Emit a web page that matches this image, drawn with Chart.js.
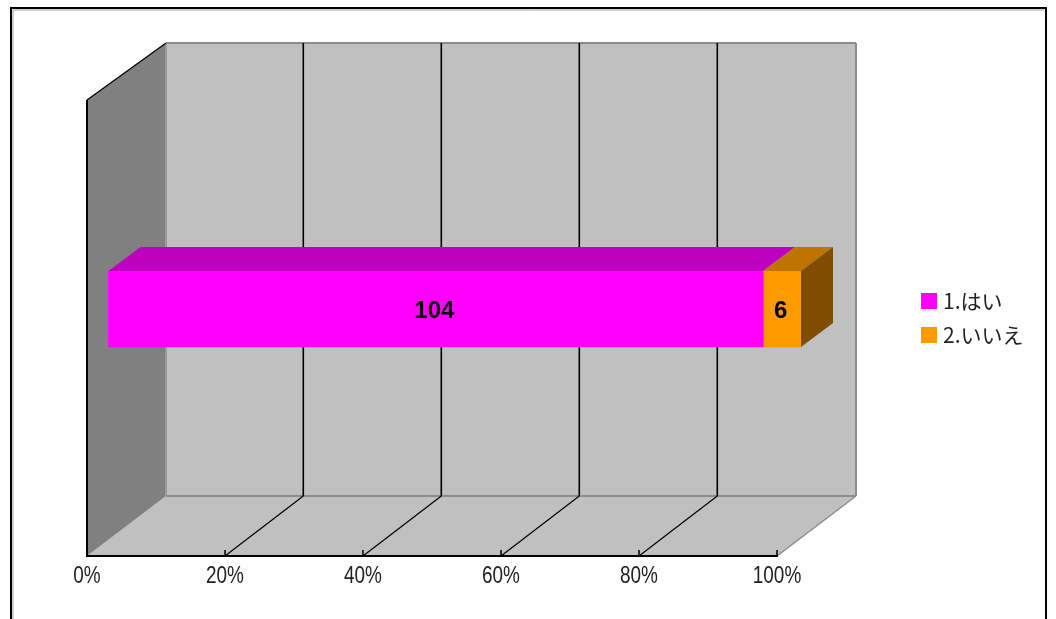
<!DOCTYPE html>
<html>
<head>
<meta charset="utf-8">
<style>
  html, body { margin: 0; padding: 0; background: #fff; overflow: hidden; }
  canvas { display: block; }
</style>
<script src="https://cdn.jsdelivr.net/npm/chart.js@4/dist/chart.umd.min.js"></script>
</head>
<body>
<canvas id="chart" width="1056" height="619"></canvas>
<script>
const categories = ["Q"];
const seriesNames = ["1.はい", "2.いいえ"];
const seriesValues = [[104], [6]];
const tickLabels = ["0%", "20%", "40%", "60%", "80%", "100%"];
const seriesColors = ["#ff00ff", "#ff9900"];
const topColors = ["#c000c0", "#bf7300"];
const sideColors = ["#800080", "#804d00"];

const TOTAL = seriesValues[0][0] + seriesValues[1][0];

// depth of the box and of the bar inside it
const DEPTH_X = 79, DEPTH_TOP = -57, DEPTH_FLOOR = -60;
const BAR_DX = 32, BAR_DY = -24;
const BAR_LEFT = 108, BAR_RIGHT = 801, BAR_SHIFT_Y = -19;

function poly(ctx, pts, fill) {
    ctx.beginPath();
    pts.forEach((p, i) => i ? ctx.lineTo(p[0], p[1]) : ctx.moveTo(p[0], p[1]));
    ctx.closePath();
    ctx.fillStyle = fill;
    ctx.fill();
}

function line(ctx, x1, y1, x2, y2, color, width) {
    ctx.beginPath();
    ctx.moveTo(x1, y1);
    ctx.lineTo(x2, y2);
    ctx.strokeStyle = color;
    ctx.lineWidth = width;
    ctx.stroke();
}

const box3d = {
    id: "box3d",
    beforeDraw(chart) {
        const ctx = chart.ctx;
        const { left, right, top, bottom } = chart.chartArea;
        const x = chart.scales.x;
        const backTop = top + DEPTH_TOP, backBottom = bottom + DEPTH_FLOOR;

        ctx.save();
        ctx.fillStyle = "#fff";
        ctx.fillRect(0, 0, chart.width, chart.height);

        // frame, runs off the bottom of the picture
        ctx.strokeStyle = "#000";
        ctx.lineWidth = 2;
        ctx.strokeRect(11, 8, 1035, 700);
        line(ctx, 13, 10, 1044, 10, "#a0a0a0", 1);
        line(ctx, 13, 10, 13, 619, "#a0a0a0", 1);

        // walls
        poly(ctx, [[left + DEPTH_X, backTop], [right + DEPTH_X, backTop], [right + DEPTH_X, backBottom], [left + DEPTH_X, backBottom]], "#c0c0c0");
        poly(ctx, [[left, bottom], [right, bottom], [right + DEPTH_X, backBottom], [left + DEPTH_X, backBottom]], "#c0c0c0");
        poly(ctx, [[left, top], [left + DEPTH_X, backTop], [left + DEPTH_X, backBottom], [left, bottom]], "#808080");

        // grey edges
        line(ctx, left + DEPTH_X, backTop, right + DEPTH_X, backTop, "#8c8c8c", 2);
        line(ctx, right + DEPTH_X, backTop, right + DEPTH_X, backBottom, "#8c8c8c", 2);
        line(ctx, left + DEPTH_X, backTop, left + DEPTH_X, backBottom, "#9a9a9a", 2);
        line(ctx, left + DEPTH_X, backBottom, right + DEPTH_X, backBottom, "#8c8c8c", 2);
        line(ctx, right + DEPTH_X, backBottom, right, bottom, "#8c8c8c", 1.5);

        // grid lines on back wall and floor
        x.ticks.forEach((t, i) => {
            const px = x.getPixelForValue(t.value);
            if (i > 0 && i < x.ticks.length - 1) {
                line(ctx, px + DEPTH_X - 0.7, backTop, px + DEPTH_X - 0.7, backBottom, "#000", 1.6);
                line(ctx, px + DEPTH_X - 0.7, backBottom, px, bottom, "#000", 1.2);
            }
            if (i > 0) line(ctx, px, bottom, px, bottom - 6, "#000", 1.5);
        });

        // front-left edge and its top diagonal
        line(ctx, left, top, left, bottom, "#000", 2);
        line(ctx, left, top, left + DEPTH_X, backTop, "#000", 1.3);
        ctx.restore();
    },
    beforeDatasetsDraw(chart) {
        const ctx = chart.ctx;
        const { left, right } = chart.chartArea;
        // bar sits part way into the box, slightly wider than the axis
        ctx.save();
        ctx.translate(BAR_LEFT, BAR_SHIFT_Y);
        ctx.scale((BAR_RIGHT - BAR_LEFT) / (right - left), 1);
        ctx.translate(-left, 0);
    },
    afterDatasetsDraw(chart) {
        const ctx = chart.ctx;
        const { left, right } = chart.chartArea;
        const sx = (BAR_RIGHT - BAR_LEFT) / (right - left);
        const dx = BAR_DX / sx;

        chart.data.datasets.forEach((ds, i) => {
            const el = chart.getDatasetMeta(i).data[0];
            const y0 = el.y - el.height / 2, y1 = el.y + el.height / 2;
            poly(ctx, [[el.base, y0], [el.x, y0], [el.x + dx, y0 + BAR_DY], [el.base + dx, y0 + BAR_DY]], topColors[i]);
            if (i === chart.data.datasets.length - 1) {
                poly(ctx, [[el.x, y0], [el.x + dx, y0 + BAR_DY], [el.x + dx, y1 + BAR_DY], [el.x, y1]], sideColors[i]);
            }
        });
        ctx.restore();

        // value labels
        ctx.save();
        ctx.font = "bold 24px 'Liberation Sans', sans-serif";
        ctx.fillStyle = "#000";
        ctx.textAlign = "center";
        ctx.textBaseline = "middle";
        chart.data.datasets.forEach((ds, i) => {
            const el = chart.getDatasetMeta(i).data[0];
            const cx = BAR_LEFT + ((el.base + el.x) / 2 - left) * sx;
            ctx.fillText(String(ds.data[0]), cx - 1.5, el.y + BAR_SHIFT_Y + 2);
        });
        ctx.restore();
    },
    afterDraw(chart) {
        const ctx = chart.ctx;
        const x = chart.scales.x;

        // tick labels are tall and narrow in the original, no installed face has that
        ctx.save();
        ctx.font = "24px 'Liberation Sans', sans-serif";
        ctx.fillStyle = "#222";
        ctx.textAlign = "center";
        ctx.textBaseline = "middle";
        x.ticks.forEach((t, i) => {
            ctx.save();
            ctx.translate(x.getPixelForValue(t.value), 576);
            ctx.scale(0.79, 1);
            ctx.fillText(tickLabels[i], 0, 0);
            ctx.restore();
        });
        ctx.restore();

        // legend, at the fixed spot right of the box
        ctx.save();
        ctx.font = "21px 'Noto Sans CJK JP', sans-serif";
        ctx.textBaseline = "middle";
        chart.data.datasets.forEach((ds, i) => {
            const y = 293 + i * 34;
            ctx.fillStyle = ds.backgroundColor;
            ctx.fillRect(921, y, 16, 16);
            ctx.fillStyle = "#222";
            ctx.fillText(ds.label, 943, y + 8);
        });
        ctx.restore();
    }
};

new Chart(document.getElementById("chart"), {
    type: "bar",
    data: {
        labels: categories,
        datasets: seriesNames.map((name, i) => ({
            label: name,
            data: seriesValues[i],
            backgroundColor: seriesColors[i],
            borderWidth: 0,
            barThickness: 76,
            clip: false
        }))
    },
    options: {
        indexAxis: "y",
        responsive: false,
        animation: false,
        layout: { padding: { left: 87, right: 279, top: 100, bottom: 0 } },
        plugins: { legend: { display: false }, tooltip: { enabled: false } },
        scales: {
            x: {
                stacked: true,
                min: 0,
                max: TOTAL,
                afterFit: s => { s.height = 63; },
                afterBuildTicks: s => {
                    s.ticks = tickLabels.map((_, i) => ({ value: TOTAL * i / (tickLabels.length - 1) }));
                },
                grid: { drawOnChartArea: false, drawTicks: false },
                border: { color: "#000", width: 2 },
                ticks: { display: false }
            },
            y: { stacked: true, display: false }
        }
    },
    plugins: [box3d]
});
</script>
</body>
</html>
